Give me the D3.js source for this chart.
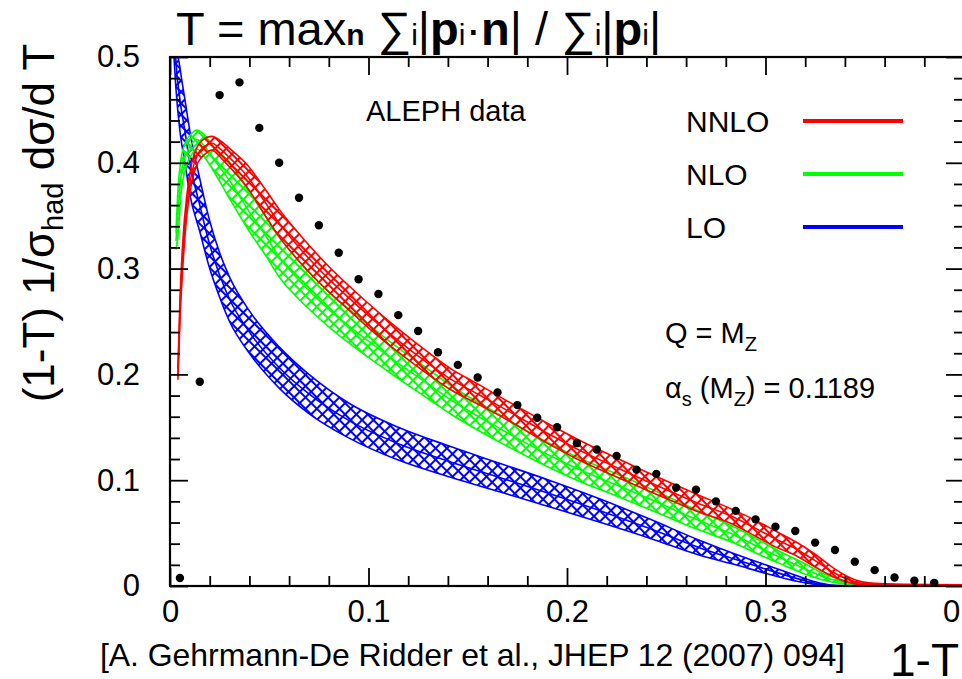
<!DOCTYPE html>
<html>
<head>
<meta charset="utf-8">
<script src="https://cdn.jsdelivr.net/npm/d3@7"></script>
<style>
  html, body { margin: 0; padding: 0; background: #fff; }
  svg { display: block; font-family: "Liberation Sans", Arial, sans-serif; }
</style>
</head>
<body>
<svg id="chart" width="962" height="679"></svg>
<script>
// ALEPH thrust distribution, (1-T) 1/sigma dsigma/dT
const alephX = [0.005, 0.015, 0.025, 0.035, 0.045, 0.055, 0.065, 0.075, 0.085, 0.095,
  0.105, 0.115, 0.125, 0.135, 0.145, 0.155, 0.165, 0.175, 0.185, 0.195,
  0.205, 0.215, 0.225, 0.235, 0.245, 0.255, 0.265, 0.275, 0.285, 0.295,
  0.305, 0.315, 0.325, 0.335, 0.345, 0.355, 0.365, 0.375, 0.385]
const alephY = [0.0076, 0.193, 0.464, 0.476, 0.433, 0.400, 0.367, 0.341, 0.315, 0.290,
  0.276, 0.256, 0.241, 0.221, 0.209, 0.197, 0.183, 0.171, 0.159, 0.150,
  0.135, 0.129, 0.123, 0.110, 0.106, 0.093, 0.091, 0.080, 0.071, 0.063,
  0.056, 0.052, 0.041, 0.034, 0.023, 0.015, 0.008, 0.005, 0.003]

// scale uncertainty bands
const nnloX = [0.004, 0.005, 0.0065, 0.0085, 0.011, 0.014, 0.0175, 0.021, 0.026, 0.031,
  0.038, 0.048, 0.055, 0.065, 0.08, 0.09, 0.1, 0.115, 0.13, 0.141,
  0.155, 0.166, 0.191, 0.205, 0.225, 0.242, 0.265, 0.285, 0.295, 0.305,
  0.315, 0.325, 0.335, 0.345, 0.355, 0.37, 0.4]
const nnloHi = [0.205, 0.27, 0.327, 0.370, 0.400, 0.416, 0.423, 0.425, 0.420, 0.412,
  0.400, 0.375, 0.356, 0.333, 0.302, 0.284, 0.267, 0.243, 0.221, 0.206,
  0.191, 0.179, 0.153, 0.139, 0.121, 0.106, 0.087, 0.071, 0.062, 0.052,
  0.042, 0.030, 0.016, 0.006, 0.0025, 0.0015, 0.001]
const nnloLo = [0.195, 0.25, 0.303, 0.351, 0.382, 0.400, 0.408, 0.412, 0.404, 0.394,
  0.379, 0.350, 0.330, 0.307, 0.278, 0.261, 0.244, 0.221, 0.200, 0.186,
  0.172, 0.161, 0.134, 0.120, 0.103, 0.089, 0.071, 0.057, 0.047, 0.037,
  0.029, 0.018, 0.008, 0.002, 0.0005, 0.0003, 0.0003]

const nloX = [0.003, 0.004, 0.0055, 0.008, 0.011, 0.0135, 0.0175, 0.022, 0.031, 0.04,
  0.048, 0.055, 0.065, 0.08, 0.1, 0.115, 0.13, 0.141, 0.166, 0.191,
  0.205, 0.225, 0.242, 0.265, 0.285, 0.3, 0.31, 0.32, 0.33, 0.34,
  0.35, 0.36]
const nloHi = [0.334, 0.374, 0.403, 0.420, 0.428, 0.431, 0.426, 0.415, 0.398, 0.372,
  0.350, 0.330, 0.307, 0.278, 0.247, 0.225, 0.205, 0.190, 0.162, 0.135,
  0.122, 0.106, 0.092, 0.072, 0.055, 0.040, 0.030, 0.021, 0.011, 0.005,
  0.002, 0.0005]
const nloLo = [0.318, 0.330, 0.370, 0.395, 0.408, 0.413, 0.405, 0.392, 0.363, 0.335,
  0.313, 0.292, 0.271, 0.245, 0.216, 0.196, 0.177, 0.163, 0.136, 0.112,
  0.100, 0.085, 0.072, 0.054, 0.040, 0.027, 0.019, 0.011, 0.005, 0.002,
  0.0005, 0]

const loX = [0.002, 0.003, 0.005, 0.0075, 0.01, 0.015, 0.02, 0.025, 0.03, 0.04,
  0.055, 0.07, 0.09, 0.115, 0.141, 0.166, 0.191, 0.217, 0.242, 0.267,
  0.285, 0.3, 0.317, 0.325, 0.333, 0.345]
const loHi = [0.56, 0.52, 0.49, 0.46, 0.43, 0.385, 0.345, 0.315, 0.292, 0.260,
  0.226, 0.200, 0.173, 0.150, 0.132, 0.116, 0.100, 0.082, 0.063, 0.043,
  0.030, 0.020, 0.009, 0.004, 0.001, 0]
const loLo = [0.50, 0.47, 0.43, 0.40, 0.37, 0.335, 0.30, 0.273, 0.250, 0.220,
  0.187, 0.163, 0.140, 0.119, 0.103, 0.089, 0.075, 0.060, 0.045, 0.029,
  0.020, 0.012, 0.004, 0.0015, 0, 0]

const seriesNames = ['NNLO', 'NLO', 'LO']
const seriesColours = ['#ff0000', '#00ff00', '#0000ff']

const xTicks = [0, 0.1, 0.2, 0.3, 0.4]
const xTickLabels = ['0', '0.1', '0.2', '0.3', '0.4']
const yTicks = [0, 0.1, 0.2, 0.3, 0.4, 0.5]
const yTickLabels = ['0', '0.1', '0.2', '0.3', '0.4', '0.5']

const svg = d3.select('#chart')
const plotLeft = 170, plotRight = 964, plotTop = 57, plotBottom = 586

const x = d3.scaleLinear().domain([0, 0.4]).range([plotLeft, plotRight])
const y = d3.scaleLinear().domain([0, 0.5]).range([plotBottom, plotTop])

const xMinor = d3.range(0, 0.401, 0.02).filter(v => Math.abs(v * 10 - Math.round(v * 10)) > 1e-6)
const yMinor = d3.range(0, 0.501, 0.02).filter(v => Math.abs(v * 10 - Math.round(v * 10)) > 1e-6)

const defs = svg.append('defs')
defs.append('clipPath').attr('id', 'plot')
  .append('rect')
    .attr('x', plotLeft).attr('y', plotTop)
    .attr('width', plotRight - plotLeft).attr('height', plotBottom - plotTop)

// cross hatching for the bands
seriesColours.forEach((c, i) => {
  const p = defs.append('pattern')
    .attr('id', 'hatch' + i)
    .attr('patternUnits', 'userSpaceOnUse')
    .attr('width', 8).attr('height', 8)
    .attr('patternTransform', 'rotate(45)')
  p.append('rect').attr('width', 8).attr('height', 2).attr('fill', c)
  p.append('rect').attr('width', 2).attr('height', 8).attr('fill', c)
})

const bands = [
  { xs: nnloX, hi: nnloHi, lo: nnloLo },
  { xs: nloX, hi: nloHi, lo: nloLo },
  { xs: loX, hi: loHi, lo: loLo }
]

const area = d3.area()
  .x(d => x(d.x))
  .y0(d => y(d.lo))
  .y1(d => y(d.hi))
  .curve(d3.curveMonotoneX)

const edge = d3.line()
  .x(d => x(d[0]))
  .y(d => y(d[1]))
  .curve(d3.curveMonotoneX)

const plot = svg.append('g').attr('clip-path', 'url(#plot)')

// LO underneath, NNLO on top
d3.range(bands.length - 1, -1, -1).forEach(i => {
  const b = bands[i]
  const pts = b.xs.map((v, j) => ({ x: v, hi: b.hi[j], lo: b.lo[j] }))
  plot.append('path')
    .attr('d', area(pts))
    .attr('fill', 'url(#hatch' + i + ')')
  ;[b.hi, b.lo, b.hi.map((h, j) => (h + b.lo[j]) / 2)].forEach(vals => {
    plot.append('path')
      .attr('d', edge(b.xs.map((v, j) => [v, vals[j]])))
      .attr('fill', 'none')
      .attr('stroke', seriesColours[i])
      .attr('stroke-width', 1.6)
  })
})

plot.selectAll('circle')
  .data(alephX.map((v, i) => [v, alephY[i]]))
  .enter().append('circle')
    .attr('cx', d => x(d[0]))
    .attr('cy', d => y(d[1]))
    .attr('r', 4.2)
    .attr('fill', '#000')

// axes, ticks pointing inwards on all four sides
function drawAxis (axis, transform, labels) {
  const g = svg.append('g').attr('transform', transform).call(axis)
  g.select('.domain').remove()
  g.selectAll('line').attr('stroke', '#000').attr('stroke-width', 1.8)
  g.selectAll('text')
    .attr('fill', '#000')
    .style('font-family', '"Liberation Sans", Arial, sans-serif')
    .style('font-size', '31px')
  if (!labels) g.selectAll('text').remove()
  return g
}

drawAxis(d3.axisBottom(x).tickValues(xTicks).tickSize(-18).tickPadding(14)
  .tickFormat((d, i) => xTickLabels[i]), `translate(0,${plotBottom})`, true)
drawAxis(d3.axisBottom(x).tickValues(xMinor).tickSize(-10), `translate(0,${plotBottom})`, false)
drawAxis(d3.axisTop(x).tickValues(xTicks).tickSize(-18), `translate(0,${plotTop})`, false)
drawAxis(d3.axisTop(x).tickValues(xMinor).tickSize(-10), `translate(0,${plotTop})`, false)
drawAxis(d3.axisLeft(y).tickValues(yTicks).tickSize(-18).tickPadding(30)
  .tickFormat((d, i) => yTickLabels[i]), `translate(${plotLeft},0)`, true)
drawAxis(d3.axisLeft(y).tickValues(yMinor).tickSize(-10), `translate(${plotLeft},0)`, false)
drawAxis(d3.axisRight(y).tickValues(yTicks).tickSize(-18), `translate(${plotRight},0)`, false)
drawAxis(d3.axisRight(y).tickValues(yMinor).tickSize(-10), `translate(${plotRight},0)`, false)

svg.append('rect')
  .attr('x', plotLeft).attr('y', plotTop)
  .attr('width', plotRight - plotLeft).attr('height', plotBottom - plotTop)
  .attr('fill', 'none')
  .attr('stroke', '#000')
  .attr('stroke-width', 2.2)

// title
const title = svg.append('text')
  .attr('x', 176).attr('y', 45)
  .style('font-size', '47px')
const titleParts = [
  ['T = max', 47, 'normal'], ['n', 30, 'bold'], [' \u2211', 47, 'normal'], ['i', 30, 'normal'],
  ['|', 47, 'normal'], ['p', 47, 'bold'], ['i', 30, 'normal'], ['\u00b7', 47, 'normal'],
  ['n', 47, 'bold'], ['| / \u2211', 47, 'normal'], ['i', 30, 'normal'], ['|', 47, 'normal'],
  ['p', 47, 'bold'], ['i', 30, 'normal'], ['|', 47, 'normal']
]
titleParts.forEach(p => {
  title.append('tspan').text(p[0])
    .style('font-size', p[1] + 'px')
    .style('font-weight', p[2])
})

// y axis title
const yTitle = svg.append('text')
  .attr('transform', 'translate(54,223) rotate(-90)')
  .attr('text-anchor', 'middle')
  .style('font-size', '44px')
yTitle.append('tspan').text('(1-T) 1/\u03c3')
yTitle.append('tspan').text('had').attr('dy', 9).style('font-size', '29px')
yTitle.append('tspan').text(' d\u03c3/d T').attr('dy', -9)

svg.append('text')
  .attr('x', 959).attr('y', 676)
  .attr('text-anchor', 'end')
  .style('font-size', '46px')
  .text('1-T')

svg.append('text')
  .attr('x', 100).attr('y', 666)
  .attr('textLength', 745)
  .style('font-size', '32px')
  .text('[A. Gehrmann-De Ridder et al., JHEP 12 (2007) 094]')

svg.append('text')
  .attr('x', 366).attr('y', 121)
  .style('font-size', '29px')
  .text('ALEPH data')

// legend
const legend = svg.append('g')
seriesNames.forEach((name, i) => {
  const ly = 121 + i * 53
  legend.append('text')
    .attr('x', 686).attr('y', ly + 11)
    .style('font-size', '30px')
    .text(name)
  legend.append('line')
    .attr('x1', 803).attr('x2', 903)
    .attr('y1', ly).attr('y2', ly)
    .attr('stroke', seriesColours[i])
    .attr('stroke-width', 4)
})

const q = svg.append('text').attr('x', 665).attr('y', 343).style('font-size', '29px')
q.append('tspan').text('Q = M')
q.append('tspan').text('Z').attr('dy', 8).style('font-size', '20px')

const a = svg.append('text').attr('x', 665).attr('y', 398).style('font-size', '29px')
a.append('tspan').text('\u03b1')
a.append('tspan').text('s').attr('dy', 8).style('font-size', '20px')
a.append('tspan').text(' (M').attr('dy', -8)
a.append('tspan').text('Z').attr('dy', 8).style('font-size', '20px')
a.append('tspan').text(') = 0.1189').attr('dy', -8)
</script>
</body>
</html>
